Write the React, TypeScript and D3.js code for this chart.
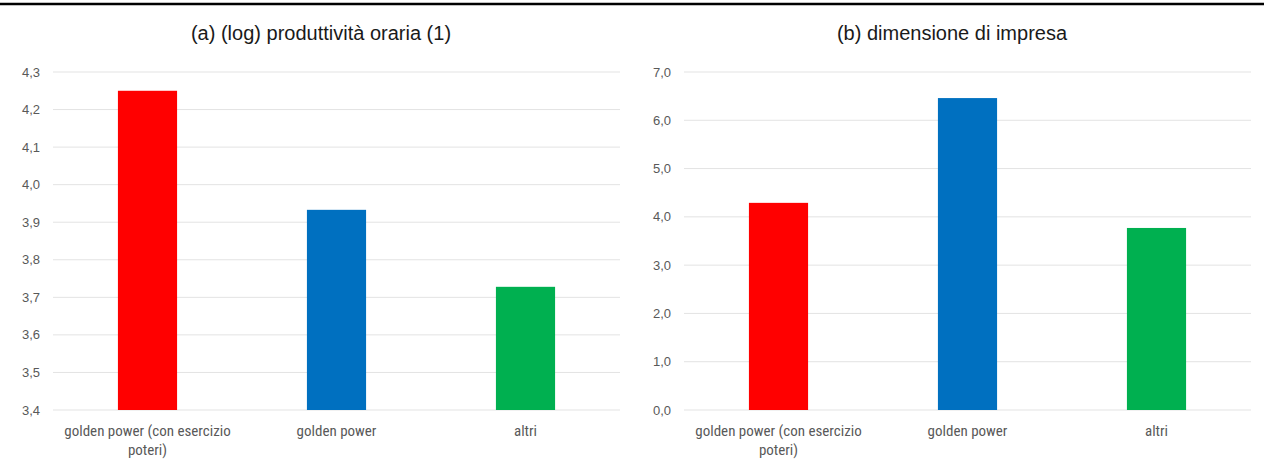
import React from "react";
import * as d3 from "d3";

const categories = ["golden power (con esercizio poteri)", "golden power", "altri"];
const categoryLines = [["golden power (con esercizio", "poteri)"], ["golden power"], ["altri"]];
const colors = ["#FF0000", "#0070C0", "#00B050"];
const productivityValues = [4.25, 3.933, 3.728];
const sizeValues = [4.29, 6.46, 3.77];
const productivityTicks = [3.4, 3.5, 3.6, 3.7, 3.8, 3.9, 4.0, 4.1, 4.2, 4.3];
const sizeTicks = [0, 1, 2, 3, 4, 5, 6, 7];

const W = 1264;
const H = 468;

type PanelProps = {
  title: string;
  values: number[];
  ticks: number[];
  domain: [number, number];
  x0: number;
  x1: number;
  titleX: number;
};

function Panel({ title, values, ticks, domain, x0, x1, titleX }: PanelProps) {
  const y = d3.scaleLinear().domain(domain).range([410, 72]);
  const x = d3
    .scaleBand<string>()
    .domain(categories)
    .range([x0, x1])
    .paddingInner(0.687)
    .paddingOuter(0.3435);
  const fmt = (v: number) => d3.format(".1f")(v).replace(".", ",");
  return (
    <g>
      <text
        x={titleX}
        y={40}
        textAnchor="middle"
        fontFamily="Liberation Sans, Arial, sans-serif"
        fontSize={20}
        fill="#1a1a1a"
      >
        {title}
      </text>
      {ticks.map((t) => (
        <g key={t}>
          <line x1={x0} x2={x1} y1={y(t)} y2={y(t)} stroke="#e3e3e3" strokeWidth={1} />
          <text
            x={x0 - 13}
            y={y(t)}
            dy="0.35em"
            textAnchor="end"
            fontFamily="Liberation Sans, Arial, sans-serif"
            fontSize={13}
            fill="#595959"
          >
            {fmt(t)}
          </text>
        </g>
      ))}
      {values.map((v, i) => (
        <rect
          key={i}
          x={x(categories[i])}
          y={y(v)}
          width={x.bandwidth()}
          height={y(domain[0]) - y(v)}
          fill={colors[i]}
        />
      ))}
      {categoryLines.map((lines, i) => (
        <text
          key={i}
          textAnchor="middle"
          fontFamily="Liberation Sans Narrow, Roboto Condensed, Arial Narrow, sans-serif"
          fontSize={15}
          fill="#595959"
        >
          {lines.map((l, j) => (
            <tspan key={j} x={(x(categories[i]) as number) + x.bandwidth() / 2} y={436 + j * 19}>
              {l}
            </tspan>
          ))}
        </text>
      ))}
    </g>
  );
}

export default function App() {
  return (
    <svg
      width={W}
      height={H}
      style={{ position: "absolute", left: 0, top: 0, background: "#fff" }}
    >
      <rect x={0} y={0} width={W} height={H} fill="#fff" />
      <line x1={0} x2={W} y1={4} y2={4} stroke="#000" strokeWidth={2.5} />
      <Panel
        title="(a) (log) produttività oraria (1)"
        values={productivityValues}
        ticks={productivityTicks}
        domain={[3.4, 4.3]}
        x0={53}
        x1={620}
        titleX={321}
      />
      <Panel
        title="(b) dimensione di impresa"
        values={sizeValues}
        ticks={sizeTicks}
        domain={[0, 7]}
        x0={684}
        x1={1251}
        titleX={952}
      />
    </svg>
  );
}
